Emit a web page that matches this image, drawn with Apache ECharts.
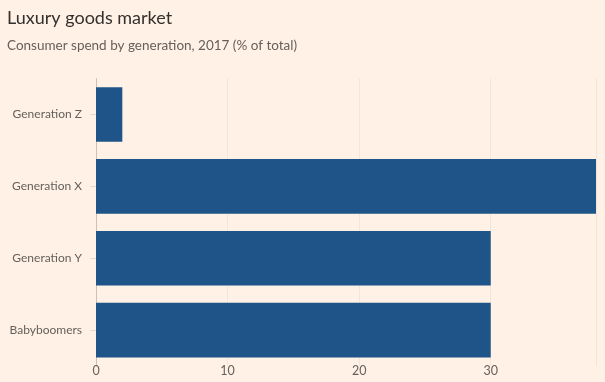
<!DOCTYPE html>
<html><head><meta charset="utf-8">
<script src="https://cdn.jsdelivr.net/npm/echarts@6/dist/echarts.min.js"></script>
<style>html,body{margin:0;padding:0;background:#FFF1E5;}#c{width:605px;height:382px;}</style>
</head><body><div id="c"></div>
<script>
const categories = ['Generation Z', 'Generation X', 'Generation Y', 'Babyboomers'];
const values = [2, 38, 30, 30];
const xTicks = [0, 10, 20, 30];

const chart = echarts.init(document.getElementById('c'), null, {renderer: 'canvas'});
chart.setOption({
  backgroundColor: '#FFF1E5',
  animation: false,
  title: [
    {text: 'Luxury goods market', left: 2, top: 4,
     textStyle: {fontFamily: 'Lato', fontSize: 18, fontWeight: 'normal', color: '#33302E'}},
    {text: 'Consumer spend by generation, 2017 (% of total)', left: 2, top: 34,
     textStyle: {fontFamily: 'Lato', fontSize: 13.5, fontWeight: 'normal', color: '#66605C'}}
  ],
  grid: {left: 96, right: 9, top: 78.5, bottom: 16, containLabel: false},
  xAxis: {
    type: 'value', min: 0, max: 38, interval: 10,
    axisLine: {show: false}, axisTick: {show: false},
    splitLine: {show: true, lineStyle: {color: '#F2E5DA', width: 1}},
    axisLabel: {margin: -2, color: '#66605C', fontFamily: 'Lato', fontSize: 12.5,
      formatter: v => xTicks.includes(v) ? String(v) : ''}
  },
  yAxis: {
    type: 'category', data: categories, inverse: true,
    axisLine: {show: true, lineStyle: {color: '#CCC1B7', width: 1}},
    axisTick: {show: true, length: 6, alignWithLabel: true, lineStyle: {color: '#E6D9CE'}},
    axisLabel: {margin: 14, color: '#66605C', fontFamily: 'Lato', fontSize: 12}
  },
  series: [{
    type: 'bar', data: values, barCategoryGap: '24%',
    itemStyle: {color: '#1F5489'}
  }]
});
</script></body></html>
